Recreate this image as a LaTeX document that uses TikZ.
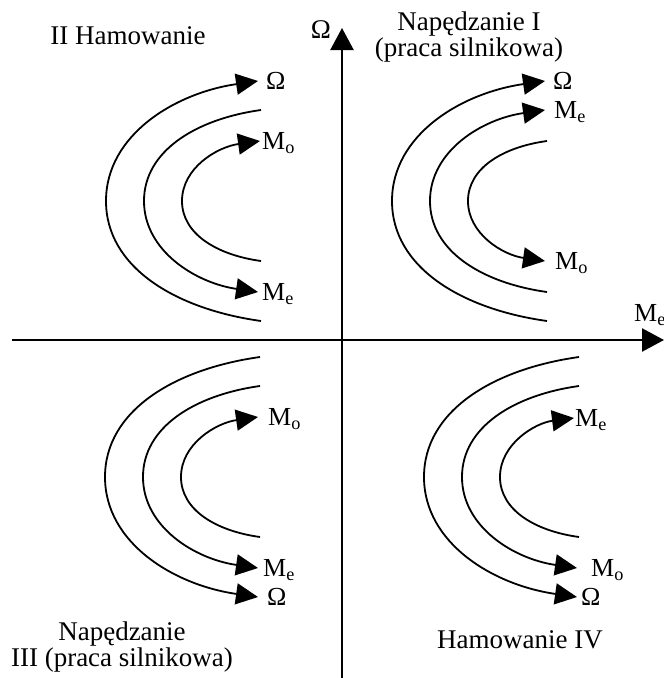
\documentclass[tikz,border=0pt]{standalone}
\usepackage{fontspec}
\setmainfont{Liberation Serif}
\usetikzlibrary{arrows.meta}

\begin{document}
\begin{tikzpicture}[
    x=1pt, y=-1pt,
    every node/.style={font=\fontsize{27}{24}\selectfont},
    title/.style={align=center},
    lbl/.style={anchor=west, inner ysep=0pt, inner xsep=8pt, text depth=0pt, font=\fontsize{26}{28}\selectfont},
    curve/.style={line width=1.8pt},
    arr/.style={curve, -{Triangle[length=22pt, width=21pt]}},
    axis/.style={line width=2.4pt, -{Triangle[length=22pt, width=23pt]}}
]
\useasboundingbox (0,0) rectangle (664,678);

% Axes
\coordinate (xl) at (12,340);
\coordinate (xr) at (664,340);
\coordinate (yb) at (342,678);
\coordinate (yt) at (342,28);
\draw[axis] (xl) -- (xr);
\draw[axis] (yb) -- (yt);
\node (omy) at (321,30) {Ω};
\node[lbl, inner xsep=0pt] (mex) at (634,313) {M\textsubscript{e}};

% Quadrant titles
\node[title] (t1) at (469,37) {Napędzanie I\\(praca silnikowa)};
\node[title] (t2) at (128,36) {II Hamowanie};
\node[title] (t3) at (122,647) {Napędzanie\\III (praca silnikowa)};
\node[title] (t4) at (520,640) {Hamowanie IV};

% Quadrant I
\node[lbl] (om1) at (545,81) {Ω};
\node[lbl, inner xsep=9pt] (me1) at (545,110) {M\textsubscript{e}};
\node[lbl, inner xsep=10pt] (mo1) at (545,261) {M\textsubscript{o}};
\coordinate (q1ob) at (547,321);
\coordinate (q1mb) at (547,292);
\coordinate (q1it) at (547,141);
\draw[arr] (q1ob) .. controls (461,309) and (392,267) .. (392,201)
                  .. controls (392,135) and (461,93) .. (om1.west);
\draw[arr] (q1mb) .. controls (482,283) and (430,251) .. (430,201)
                  .. controls (430,151) and (482,119) .. (me1.west);
\draw[arr] (q1it) .. controls (503,147) and (468,168) .. (468,201)
                  .. controls (468,234) and (503,255) .. (mo1.west);

% Quadrant II
\node[lbl] (om2) at (258,81) {Ω};
\node[lbl, inner xsep=2pt] (mo2) at (260,141) {M\textsubscript{o}};
\node[lbl, inner xsep=4pt] (me2) at (258,292) {M\textsubscript{e}};
\coordinate (q2ob) at (261,321);
\coordinate (q2mt) at (261,110);
\coordinate (q2ib) at (261,261);
\draw[arr] (q2ob) .. controls (175,309) and (106,267) .. (106,201)
                  .. controls (106,135) and (175,93) .. (om2.west);
\draw[arr] (q2mt) .. controls (196,119) and (144,151) .. (144,201)
                  .. controls (144,251) and (196,283) .. (me2.west);
\draw[arr] (q2ib) .. controls (217,255) and (182,234) .. (182,201)
                  .. controls (182,168) and (217,147) .. (mo2.west);

% Quadrant III
\node[lbl, inner xsep=10pt] (mo3) at (258,417) {M\textsubscript{o}};
\node[lbl, inner xsep=5pt] (me3) at (258,568) {M\textsubscript{e}};
\node[lbl, inner xsep=9pt] (om3) at (258,597) {Ω};
\coordinate (q3ot) at (260,357);
\coordinate (q3mt) at (260,386);
\coordinate (q3ib) at (260,537);
\draw[arr] (q3ot) .. controls (174,369) and (105,411) .. (105,477)
                  .. controls (105,543) and (174,585) .. (om3.west);
\draw[arr] (q3mt) .. controls (195,395) and (143,427) .. (143,477)
                  .. controls (143,527) and (195,559) .. (me3.west);
\draw[arr] (q3ib) .. controls (216,531) and (181,510) .. (181,477)
                  .. controls (181,444) and (216,423) .. (mo3.west);

% Quadrant IV
\node[lbl, inner xsep=1pt] (me4) at (574,418) {M\textsubscript{e}};
\node[lbl, inner xsep=14pt] (mo4) at (577,568) {M\textsubscript{o}};
\node[lbl, inner xsep=4pt] (om4) at (577,597) {Ω};
\coordinate (q4ot) at (579,357);
\coordinate (q4mt) at (579,386);
\coordinate (q4ib) at (579,537);
\draw[arr] (q4ot) .. controls (493,369) and (424,411) .. (424,477)
                  .. controls (424,543) and (493,585) .. (om4.west);
\draw[arr] (q4mt) .. controls (514,395) and (462,427) .. (462,477)
                  .. controls (462,527) and (514,559) .. (mo4.west);
\draw[arr] (q4ib) .. controls (535,531) and (500,510) .. (500,477)
                  .. controls (500,444) and (535,423) .. (me4.west);

\end{tikzpicture}
\end{document}
